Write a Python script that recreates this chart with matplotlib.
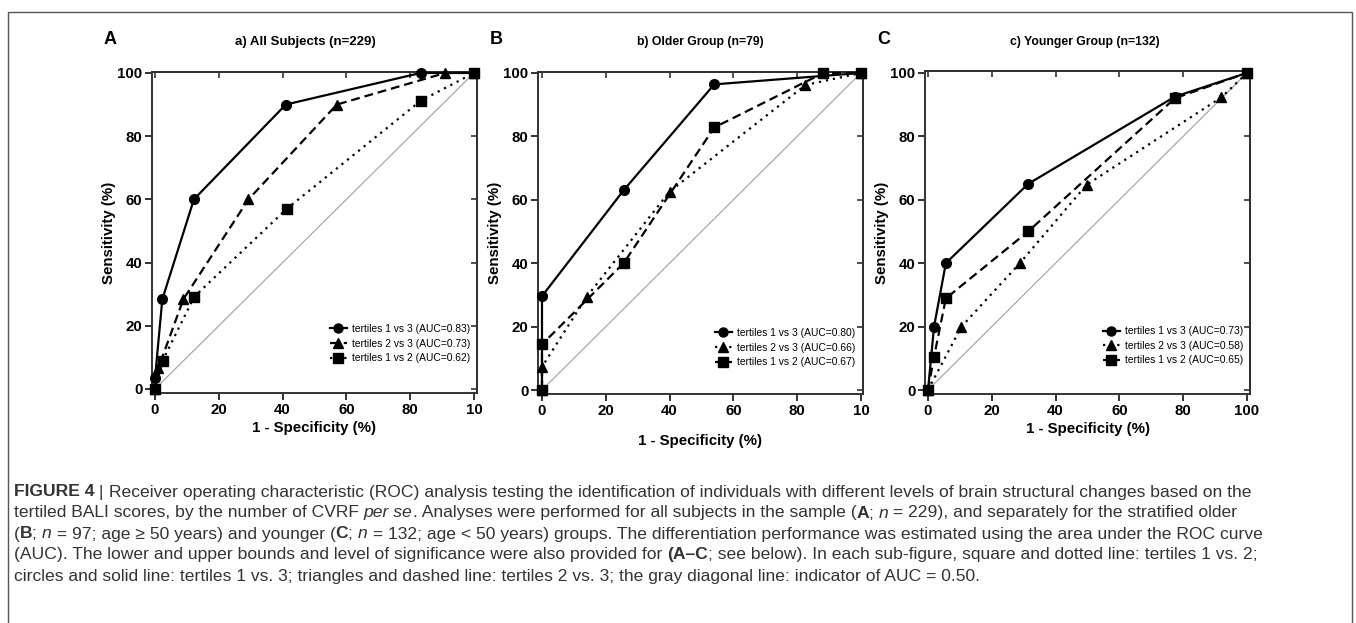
import matplotlib
matplotlib.use("Agg")
import matplotlib.pyplot as plt
from matplotlib.patches import Rectangle

plt.rcParams['font.family'] = ['Liberation Sans', 'DejaVu Sans']

# ---- data ----
panel_letters = ['A', 'B', 'C']
panel_titles = ['a) All Subjects (n=229)', 'b) Older Group (n=79)', 'c) Younger Group (n=132)']

# a) all subjects
a_13_x = [0, 0, 2.3, 12.2, 41, 83.3, 100]
a_13_y = [0, 3.4, 28.4, 60, 90, 100, 100]
a_23_x = [0, 1, 8.9, 29.3, 57, 91, 100]
a_23_y = [0, 6.5, 28.4, 60, 90, 100, 100]
a_12_x = [0, 2.4, 12.3, 41.3, 83.3, 100]
a_12_y = [0, 9, 29.2, 57, 91.2, 100]
a_auc = [0.83, 0.73, 0.62]

# b) older group
b_13_x = [0, 0, 25.6, 54, 100]
b_13_y = [0, 29.6, 63, 96.4, 100]
b_23_x = [0, 0, 14, 40, 82.6, 100]
b_23_y = [0, 7.3, 29.4, 62.6, 96.2, 100]
b_12_x = [0, 0, 25.6, 54, 88.2, 100]
b_12_y = [0, 14.4, 40, 82.8, 100, 100]
b_auc = [0.80, 0.66, 0.67]

# c) younger group
c_13_x = [0, 1.9, 5.6, 31.4, 77.4, 100]
c_13_y = [0, 20, 40, 65, 92.5, 100]
c_23_x = [0, 10.5, 28.8, 49.7, 92, 100]
c_23_y = [0, 20, 40, 64.7, 92.3, 100]
c_12_x = [0, 1.9, 5.6, 31.4, 77.4, 100]
c_12_y = [0, 10.5, 28.9, 50, 92, 100]
c_auc = [0.73, 0.58, 0.65]

ticks = [0, 20, 40, 60, 80, 100]
xtick_labels = [['0', '20', '40', '60', '80', '10'],
                ['0', '20', '40', '60', '80', '10'],
                ['0', '20', '40', '60', '80', '100']]
ytick_labels = ['0', '20', '40', '60', '80', '100']

W, H = 1356, 623
fig = plt.figure(figsize=(W / 100, H / 100), dpi=100)

# outer frame of the figure panel
fig.add_artist(Rectangle((8 / W, -0.05), (1352 - 8) / W, 1.05 - 12 / H,
                         transform=fig.transFigure, fill=False,
                         edgecolor='#555555', lw=1.0))


def px_axes(l, t, r, b):
    return fig.add_axes([l / W, 1 - b / H, (r - l) / W, (b - t) / H])


boxes = [(152, 72, 477, 393), (538, 72, 863, 394), (925, 71, 1250, 394)]
xlims = [(-0.94, 100.94), (-1.25, 100.63), (-0.94, 100.94)]
ylims = [(-1.27, 100.3), (-1.26, 100.3), (-1.26, 100.6)]
xlabel_pads = [3, 12, 3]
letter_pos = [(104, 40), (490, 39), (877, 40)]
title_pos = [(305, 42), (700, 42), (1085, 42)]
legend_anchor = [(0.548, 0.215), (0.545, 0.205), (0.548, 0.21)]

data = [
    [(a_13_x, a_13_y), (a_23_x, a_23_y), (a_12_x, a_12_y)],
    [(b_13_x, b_13_y), (b_23_x, b_23_y), (b_12_x, b_12_y)],
    [(c_13_x, c_13_y), (c_23_x, c_23_y), (c_12_x, c_12_y)],
]
aucs = [a_auc, b_auc, c_auc]
names = ['tertiles 1 vs 3', 'tertiles 2 vs 3', 'tertiles 1 vs 2']
markers = ['o', '^', 's']
msizes = [7, 7, 6.5]
# line styles differ in panel a vs b/c
styles = [['-', (0, (4, 2.2)), (0, (1, 2.2))],
          ['-', (0, (1, 2.2)), (0, (4, 2.2))],
          ['-', (0, (1, 2.2)), (0, (4, 2.2))]]

for p in range(3):
    ax = px_axes(*boxes[p])
    ax.plot([0, 100], [0, 100], color='#a8a8a8', lw=0.9, zorder=1)
    for s in range(3):
        xs, ys = data[p][s]
        ax.plot(xs, ys, color='black', lw=1.6, ls=styles[p][s],
                marker=markers[s], ms=msizes[s], clip_on=False, zorder=3,
                label=f'{names[s]} (AUC={aucs[p][s]:.2f})')
    ax.set_xlim(*xlims[p])
    ax.set_ylim(*ylims[p])
    ax.set_xticks(ticks)
    ax.set_xticklabels(xtick_labels[p], fontweight='bold', fontsize=10.8)
    ax.set_yticks(ticks)
    ax.set_yticklabels(ytick_labels, fontweight='bold', fontsize=10.8)
    ax.tick_params(direction='out', length=5, width=1.3, pad=2, color='#222222')
    for sp in ax.spines.values():
        sp.set_linewidth(1.4)
        sp.set_color('#333333')
    # inward ticks on top and right
    top = ax.secondary_xaxis('top')
    top.set_xticks(ticks)
    top.tick_params(direction='in', length=4, width=1.2, labeltop=False, color='#333333')
    top.spines['top'].set_linewidth(1.4)
    right = ax.secondary_yaxis('right')
    right.set_yticks(ticks)
    right.tick_params(direction='in', length=4, width=1.2, labelright=False, color='#333333')
    right.spines['right'].set_linewidth(1.4)

    ax.set_xlabel('1 - Specificity (%)', fontweight='bold', fontsize=10.8,
                  labelpad=xlabel_pads[p])
    ax.set_ylabel('Sensitivity (%)', fontweight='bold', fontsize=10.8, labelpad=1)
    leg = ax.legend(loc='upper left', bbox_to_anchor=legend_anchor[p],
                    frameon=False, fontsize=7.4, handlelength=1.6,
                    handletextpad=0.5, labelspacing=0.45, borderpad=0,
                    borderaxespad=0)
    for h in leg.legend_handles:
        h.set_markersize(6.5)

    fig.text(letter_pos[p][0] / W, 1 - letter_pos[p][1] / H, panel_letters[p],
             fontsize=13, fontweight='bold', ha='left', va='center')
    fig.text(title_pos[p][0] / W, 1 - title_pos[p][1] / H, panel_titles[p],
             fontsize=9.5 if p == 0 else 8.8, fontweight='bold',
             ha='center', va='center')

# ---- caption with mixed styles ----
caption = [
    [("FIGURE 4", 'b'), (" | ", 'r'),
     ("Receiver operating characteristic (ROC) analysis testing the identification of individuals with different levels of brain structural changes based on the", 'r')],
    [("tertiled BALI scores, by the number of CVRF ", 'r'), ("per se", 'i'),
     (". Analyses were performed for all subjects in the sample (", 'r'), ("A", 'b'), ("; ", 'r'),
     ("n", 'i'), (" = 229), and separately for the stratified older", 'r')],
    [("(", 'r'), ("B", 'b'), ("; ", 'r'), ("n", 'i'), (" = 97; age \u2265 50 years) and younger (", 'r'),
     ("C", 'b'), ("; ", 'r'), ("n", 'i'),
     (" = 132; age < 50 years) groups. The differentiation performance was estimated using the area under the ROC curve", 'r')],
    [("(AUC). The lower and upper bounds and level of significance were also provided for ", 'r'),
     ("(A\u2013C", 'b'),
     ("; see below). In each sub-figure, square and dotted line: tertiles 1 vs. 2;", 'r')],
    [("circles and solid line: tertiles 1 vs. 3; triangles and dashed line: tertiles 2 vs. 3; the gray diagonal line: indicator of AUC = 0.50.", 'r')],
]
cap_y = [492, 513, 534, 555, 576]
cap_size = 12.6
renderer = fig.canvas.get_renderer()


def seg_width(s, kw):
    t1 = fig.text(0, 0, s + '|', fontsize=cap_size, **kw)
    t2 = fig.text(0, 0, '|', fontsize=cap_size, **kw)
    w = t1.get_window_extent(renderer).width - t2.get_window_extent(renderer).width
    t1.remove()
    t2.remove()
    return w


style_kw = {'r': {}, 'b': {'fontweight': 'bold'}, 'i': {'fontstyle': 'italic'}}
for line, yy in zip(caption, cap_y):
    x = 14
    for s, st in line:
        kw = style_kw[st]
        fig.text(x / W, 1 - yy / H, s, fontsize=cap_size, color='#333333',
                 ha='left', va='center', **kw)
        x += seg_width(s, kw)

fig.savefig('out.png', dpi=100)
